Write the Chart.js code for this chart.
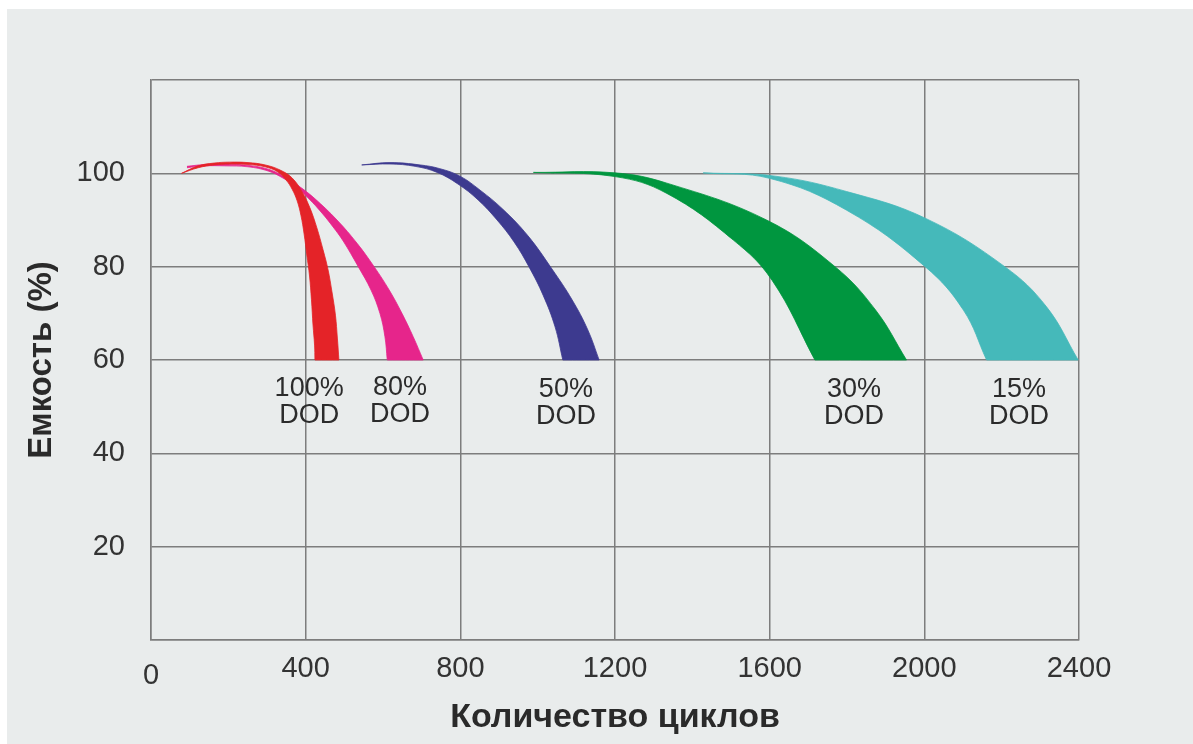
<!DOCTYPE html>
<html>
<head>
<meta charset="utf-8">
<script src="https://cdn.jsdelivr.net/npm/chart.js@4.4.1/dist/chart.umd.min.js"></script>
<style>
  html, body { margin: 0; padding: 0; background: #fff; }
  #wrap { position: absolute; left: 7px; top: 9px; width: 1186px; height: 735px; background: #e9ecec; }
</style>
</head>
<body>
<div id="wrap"><canvas id="myChart"></canvas></div>
<script>
// [cycles, capacity %], each edge from the tip down to 60 %
const dod100Outer = [[79,100],[122,101.6],[163,102.2],[204,102.4],[251,102.3],[295,101.8],[334,100.7],[365,99],[391,96],[411,92.6],[429,88.3],[445,83.6],[458,79.3],[468,74.6],[477,69.6],[482,64.7],[486,60]];
const dod100Inner = [[79,100],[122,101.2],[163,101.8],[204,102],[251,101.9],[295,101.4],[328,100.3],[349,98.6],[365,96.6],[378,94.1],[388,90.9],[396,87],[403,82.5],[410,78],[415,72.9],[419,67.5],[423,63.2],[424,60]];

const dod80Outer = [[93,101.5],[140,101.9],[191,102],[251,101.7],[303,100.9],[347,99.2],[385,97.1],[422,94.7],[481,90],[533,85],[577,80],[616,75],[649,70],[678,65],[704,60]];
const dod80Inner = [[93,101.2],[140,101.6],[191,101.6],[251,101.4],[303,100.5],[341,99],[375,97.1],[409,94.5],[442,91.5],[471,88.5],[497,85.5],[536,80],[569,75],[592,70],[605,65],[611,60]];

const dod50Outer = [[545,101.8],[618,102.3],[696,101.8],[747,101],[799,99.4],[851,96.4],[910,92.3],[975,86.6],[1037,79.5],[1089,72.9],[1130,66.4],[1159,60]];
const dod50Inner = [[545,101.8],[618,102],[683,101.5],[740,100.2],[794,97.7],[846,94.3],[895,90],[939,85.3],[978,79.9],[1014,73.9],[1045,67.1],[1065,60]];

const dod30Outer = [[989,100.2],[1200,100.1],[1334,97.9],[1592,90],[1769,80],[1874,70.7],[1954,60]];
const dod30Inner = [[989,100.2],[1200,99.3],[1334,95.7],[1506,85.7],[1606,77.1],[1717,60]];

const dod15Outer = [[1428,100.1],[1614,99.4],[1799,96.1],[2002,90.4],[2208,80],[2316,71.4],[2398,60]];
const dod15Inner = [[1428,100.1],[1601,98.9],[1799,92.1],[2002,80],[2101,70.7],[2161,60]];

const dodNames = ['100%', '80%', '50%', '30%', '15%'];
const dodLabelX = [409, 644, 1073, 1818, 2245];
const dodLabelY = [53.8, 54.0, 53.6, 53.6, 53.6];

const xTicks = [0, 400, 800, 1200, 1600, 2000, 2400];
const yTicks = [20, 40, 60, 80, 100];

const bandColors = ['#e42328', '#e6258b', '#3d3a8f', '#00963f', '#45b9ba'];
const fontFamily = '"Liberation Sans", Arial, sans-serif';

// outline of one band: outer edge down, then inner edge back up
function band(outer, inner) {
	var pts = outer.slice();
	pts.push(outer[outer.length - 1]);
	var back = inner.slice().reverse();
	pts.push(back[0]);
	pts = pts.concat(back);
	return pts.map(function(p) { return {x: p[0], y: p[1]}; });
}

const bands = [
	band(dod100Outer, dod100Inner),
	band(dod80Outer, dod80Inner),
	band(dod50Outer, dod50Inner),
	band(dod30Outer, dod30Inner),
	band(dod15Outer, dod15Inner)
];

const datasets = bands.map(function(b, i) {
	return {
		label: dodNames[i] + ' DOD',
		data: b,
		borderColor: bandColors[i],
		backgroundColor: bandColors[i],
		borderWidth: 0.8,
		pointRadius: 0,
		tension: 0.4,
		fill: 'shape'
	};
});

const dodLabels = {
	id: 'dodLabels',
	afterDatasetsDraw: function(chart) {
		var c = chart.ctx;
		var xs = chart.scales.x, ys = chart.scales.y;
		c.save();
		c.font = '27px ' + fontFamily;
		c.fillStyle = '#2b2b2b';
		c.textAlign = 'center';
		c.textBaseline = 'middle';
		for (var i = 0; i < dodNames.length; i++) {
			var px = xs.getPixelForValue(dodLabelX[i]);
			var py = ys.getPixelForValue(dodLabelY[i]);
			c.fillText(dodNames[i], px, py);
			c.fillText('DOD', px, py + 27);
		}
		// the origin tick sits a little lower than the others in the original
		c.font = '29px ' + fontFamily;
		c.fillStyle = '#333';
		c.fillText(String(xTicks[0]), xs.getPixelForValue(xTicks[0]), ys.bottom + 36);
		c.restore();
	}
};

var ctx = document.getElementById('myChart');
var myChart = new Chart(ctx, {
	type: 'line',
	data: { datasets: datasets },
	options: {
		responsive: true,
		maintainAspectRatio: false,
		animation: false,
		layout: { padding: { left: 0, top: 71, right: 114, bottom: 0 } },
		plugins: { legend: { display: false }, tooltip: { enabled: false } },
		scales: {
			x: {
				type: 'linear',
				min: 0,
				max: 2400,
				afterFit: function(s) { s.height = 104; },
				afterBuildTicks: function(s) { s.ticks = xTicks.map(function(v) { return {value: v}; }); },
				grid: { color: '#7d7d7d', lineWidth: 1.5, drawTicks: false },
				border: { color: '#7d7d7d', width: 1.5 },
				ticks: {
					padding: 12,
					color: '#333',
					font: { family: fontFamily, size: 29 },
					callback: function(v) { return v === xTicks[0] ? '' : String(v); }
				},
				title: {
					display: true,
					text: 'Количество циклов',
					color: '#2a2a2a',
					padding: { top: 0, bottom: 6 },
					font: { family: fontFamily, size: 34, weight: 'bold' }
				}
			},
			y: {
				min: 0,
				max: 120,
				afterFit: function(s) { s.width = 144; },
				ticks: {
					stepSize: 20,
					padding: 26,
					color: '#333',
					font: { family: fontFamily, size: 29 },
					callback: function(v) { return yTicks.indexOf(v) >= 0 ? v : ''; }
				},
				grid: { color: '#7d7d7d', lineWidth: 1.5, drawTicks: false },
				border: { color: '#7d7d7d', width: 1.5 },
				title: {
					display: true,
					text: 'Емкость (%)',
					color: '#2a2a2a',
					padding: { top: 15, bottom: 0 },
					font: { family: fontFamily, size: 33, weight: 'bold' }
				}
			}
		}
	},
	plugins: [dodLabels]
});
</script>
</body>
</html>
